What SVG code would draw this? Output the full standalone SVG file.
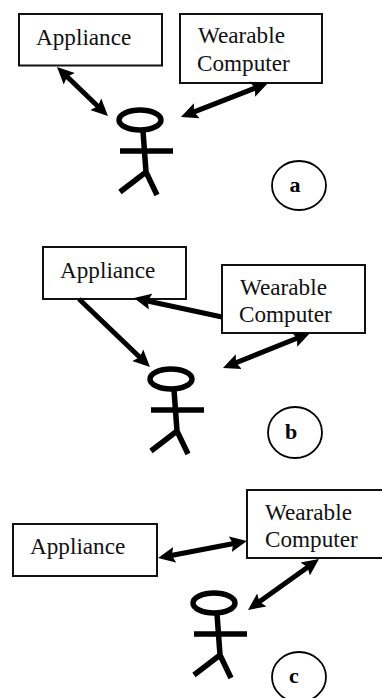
<svg xmlns="http://www.w3.org/2000/svg" width="382" height="698" viewBox="0 0 382 698">
<style>
.box{fill:#fff;stroke:#111;stroke-width:2}
.t{font-family:"Liberation Serif",serif;font-size:23.200px;fill:#111}
.l{font-family:"Liberation Serif",serif;font-size:22px;font-weight:bold;fill:#000;text-anchor:middle}
.c{fill:#fff;stroke:#000;stroke-width:1.800}
.p{fill:none;stroke:#000;stroke-width:5.500}
.a{fill:none;stroke:#000;stroke-width:5}
</style>
<defs>
<marker id="h" markerUnits="userSpaceOnUse" markerWidth="20" markerHeight="18" refX="9" refY="9" orient="auto-start-reverse"><path d="M0 1L17 9L0 17L3 9Z" fill="#000"/></marker>
<g id="stick"><ellipse class="p" cx="140" cy="120" rx="21" ry="10"/><path class="p" d="M143 131L146 172M120 151H173M120 192L146 172L157 195"/></g>
</defs>
<rect width="382" height="698" fill="#fff"/>
<g id="a-appliance"><rect class="box" x="19" y="14" width="143" height="51.500"/><text class="t" x="36" y="45">Appliance</text></g>
<g id="a-wearable"><rect class="box" x="180" y="14" width="142" height="69"/><text class="t" x="198" y="43">Wearable</text><text class="t" x="197" y="71">Computer</text></g>
<g id="a-person"><use href="#stick"/></g>
<g id="a-label"><ellipse class="c" cx="299" cy="185.500" rx="27" ry="24.500"/><text class="l" x="295" y="192">a</text></g>
<g id="b-appliance"><rect class="box" x="43" y="247" width="143" height="52"/><text class="t" x="60" y="278">Appliance</text></g>
<g id="b-wearable"><rect class="box" x="222" y="265" width="143" height="68"/><text class="t" x="240" y="295">Wearable</text><text class="t" x="239" y="322">Computer</text></g>
<g id="b-person"><use href="#stick" x="31" y="259"/></g>
<g id="b-label"><ellipse class="c" cx="295" cy="432.500" rx="27" ry="25.500"/><text class="l" x="291" y="439">b</text></g>
<g id="c-appliance"><rect class="box" x="13" y="524" width="144" height="52"/><text class="t" x="30" y="554">Appliance</text></g>
<g id="c-wearable"><rect class="box" x="247" y="490" width="140" height="68"/><text class="t" x="265" y="520">Wearable</text><text class="t" x="265" y="547">Computer</text></g>
<g id="c-person"><use href="#stick" x="74" y="483"/></g>
<g id="c-label"><ellipse class="c" cx="299" cy="677" rx="27" ry="25"/><text class="l" x="294" y="683">c</text></g>
<g id="connectors">
<line class="a" x1="62.800" y1="72.500" x2="102.200" y2="110.500" marker-start="url(#h)" marker-end="url(#h)"/>
<line class="a" x1="260.600" y1="85.900" x2="188.400" y2="114.100" marker-start="url(#h)" marker-end="url(#h)"/>
<line class="a" x1="79" y1="299" x2="144.200" y2="361.500" marker-end="url(#h)"/>
<line class="a" x1="222" y1="317" x2="141.800" y2="299.700" marker-end="url(#h)"/>
<line class="a" x1="302.600" y1="336" x2="230.400" y2="365" marker-start="url(#h)" marker-end="url(#h)"/>
<line class="a" x1="165.900" y1="556.500" x2="239.100" y2="542.500" marker-start="url(#h)" marker-end="url(#h)"/>
<line class="a" x1="312.500" y1="563.700" x2="254.500" y2="605.300" marker-start="url(#h)" marker-end="url(#h)"/>
</g>
</svg>
